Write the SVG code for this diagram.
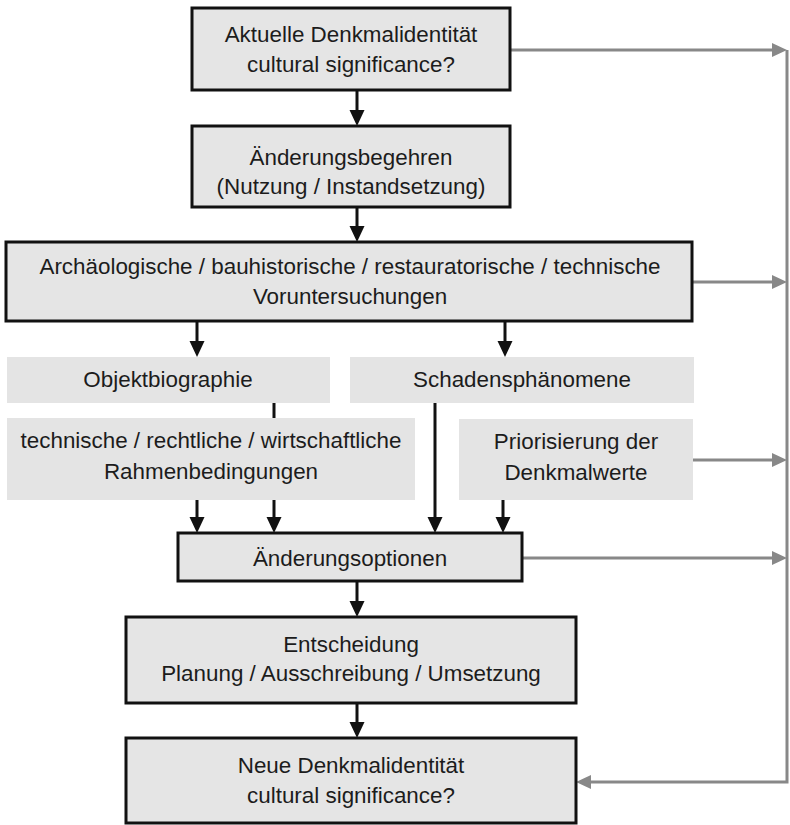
<svg xmlns="http://www.w3.org/2000/svg" width="790" height="825" viewBox="0 0 790 825">
<style>
.box{fill:#e5e5e5;stroke:#111;stroke-width:3}
.gbox{fill:#e4e4e4;stroke:none}
.t{font-family:"Liberation Sans",Arial,Helvetica,sans-serif;font-size:22.4px;fill:#1c1c1c;text-anchor:middle}
.bl{stroke:#111;stroke-width:3;fill:none}
.gl{stroke:#888;stroke-width:3;fill:none}
</style>
<defs>
<marker id="ab" markerUnits="userSpaceOnUse" markerWidth="18" markerHeight="16" refX="6" refY="7.5" orient="auto">
<path d="M0,0 L16,7.5 L0,15 z" fill="#111"/>
</marker>
<marker id="ag" markerUnits="userSpaceOnUse" markerWidth="18" markerHeight="16" refX="6" refY="7" orient="auto">
<path d="M0,0 L15,7 L0,14 z" fill="#888"/>
</marker>
</defs>
<rect width="790" height="825" fill="#fff"/>

<g id="connectors">
<line class="bl" x1="357" y1="90" x2="357" y2="116" marker-end="url(#ab)"/>
<line class="bl" x1="357" y1="207" x2="357" y2="232" marker-end="url(#ab)"/>
<line class="bl" x1="197" y1="321" x2="197" y2="347" marker-end="url(#ab)"/>
<line class="bl" x1="505" y1="321" x2="505" y2="347" marker-end="url(#ab)"/>
<line class="bl" x1="274" y1="403" x2="274" y2="418"/>
<line class="bl" x1="197" y1="500" x2="197" y2="523" marker-end="url(#ab)"/>
<line class="bl" x1="274" y1="500" x2="274" y2="523" marker-end="url(#ab)"/>
<line class="bl" x1="435" y1="403" x2="435" y2="523" marker-end="url(#ab)"/>
<line class="bl" x1="503" y1="500" x2="503" y2="523" marker-end="url(#ab)"/>
<line class="bl" x1="357" y1="581" x2="357" y2="607" marker-end="url(#ab)"/>
<line class="bl" x1="357" y1="703" x2="357" y2="728" marker-end="url(#ab)"/>
<line class="gl" x1="510" y1="50" x2="778" y2="50" marker-end="url(#ag)"/>
<line class="gl" x1="692" y1="282" x2="778" y2="282" marker-end="url(#ag)"/>
<line class="gl" x1="693" y1="460" x2="778" y2="460" marker-end="url(#ag)"/>
<line class="gl" x1="522" y1="558" x2="778" y2="558" marker-end="url(#ag)"/>
<polyline class="gl" points="787,50 787,782 585,782" marker-end="url(#ag)"/>
</g>

<g id="n1">
<rect class="box" x="192" y="8" width="318" height="82"/>
<text class="t" x="351" y="42">Aktuelle Denkmalidentität</text>
<text class="t" x="351" y="72">cultural significance?</text>
</g>
<g id="n2">
<rect class="box" x="192" y="126" width="318" height="81"/>
<text class="t" x="351" y="165">Änderungsbegehren</text>
<text class="t" x="351" y="194">(Nutzung / Instandsetzung)</text>
</g>
<g id="n3">
<rect class="box" x="6" y="242" width="686" height="79"/>
<text class="t" x="350" y="274">Archäologische / bauhistorische / restauratorische / technische</text>
<text class="t" x="350" y="304">Voruntersuchungen</text>
</g>
<g id="n4">
<rect class="gbox" x="7" y="357" width="323" height="46"/>
<text class="t" x="168" y="387">Objektbiographie</text>
</g>
<g id="n5">
<rect class="gbox" x="350" y="357" width="344" height="46"/>
<text class="t" x="522" y="387">Schadensphänomene</text>
</g>
<g id="n6">
<rect class="gbox" x="7" y="418" width="408" height="82"/>
<text class="t" x="211" y="448">technische / rechtliche / wirtschaftliche</text>
<text class="t" x="211" y="479">Rahmenbedingungen</text>
</g>
<g id="n7">
<rect class="gbox" x="459" y="419" width="234" height="81"/>
<text class="t" x="576" y="449">Priorisierung der</text>
<text class="t" x="576" y="480">Denkmalwerte</text>
</g>
<g id="n8">
<rect class="box" x="178" y="533" width="344" height="48"/>
<text class="t" x="350" y="566">Änderungsoptionen</text>
</g>
<g id="n9">
<rect class="box" x="126" y="617" width="450" height="86"/>
<text class="t" x="351" y="652">Entscheidung</text>
<text class="t" x="351" y="681">Planung / Ausschreibung / Umsetzung</text>
</g>
<g id="n10">
<rect class="box" x="126" y="738" width="450" height="85"/>
<text class="t" x="351" y="773">Neue Denkmalidentität</text>
<text class="t" x="351" y="803">cultural significance?</text>
</g>
</svg>
